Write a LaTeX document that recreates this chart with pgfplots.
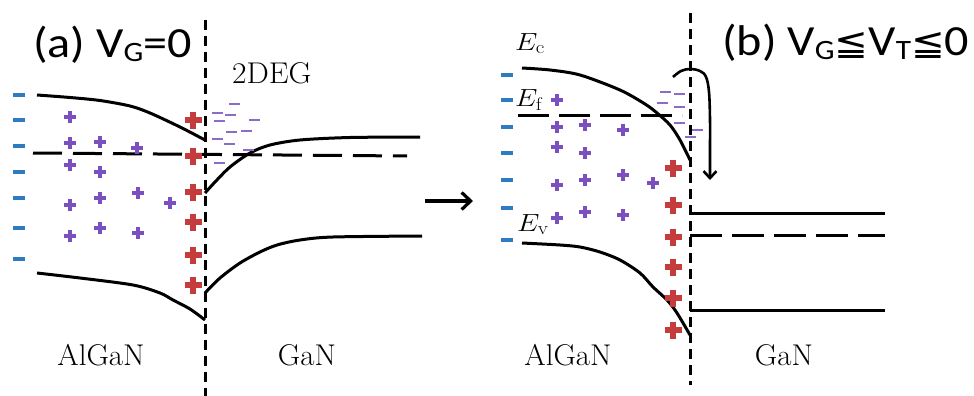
\documentclass[border=0pt]{standalone}
\usepackage{fontspec}
\usepackage{pgfplots}
\pgfplotsset{compat=1.18}
\usetikzlibrary{arrows.meta}
\newfontfamily\carlito{Carlito}
\newfontfamily\djv{DejaVu Sans}
\definecolor{bminus}{HTML}{2F7BC0}
\definecolor{rcross}{HTML}{C43C3C}
\definecolor{pplus}{HTML}{7A4FBF}
\definecolor{pminus}{HTML}{8C6CC9}
\newcommand{\sub}[1]{\raisebox{-4bp}{\fontsize{28bp}{28bp}\selectfont #1}}
\begin{document}
\begin{tikzpicture}
\begin{axis}[name=ax, width=974bp, height=396bp, scale only axis, hide axis,
  xmin=0, xmax=974, ymin=0, ymax=396, y dir=reverse, clip=false]
% ---------- panel (a) ----------
\addplot[black, line width=3bp, dash pattern=on 10bp off 6bp] coordinates {(205,20) (205,396)};
\addplot[black, line width=3bp, smooth] coordinates {(37,95) (70,97.5) (100,100.5) (130,106) (150,113) (180,127) (205,140)};
\addplot[black, line width=3bp, smooth] coordinates {(37,273) (80,278) (133,285) (160,293) (173,300) (190,309) (205,320)};
\addplot[black, line width=3bp, dash pattern=on 29bp off 11bp] coordinates {(33,153) (407,156)};
\addplot[black, line width=3bp, smooth] coordinates {(205,193) (215,182) (230,167) (250,153) (270,145) (300,140) (350,137.5) (420,137)};
\addplot[black, line width=3bp, smooth] coordinates {(205,293) (220,278) (240,263) (260,252) (277,245) (300,240) (333,237) (422,236)};
\addplot[only marks, mark=-, mark size=6bp, color=bminus, mark options={line width=3.8bp}] coordinates {(19,95) (19,120) (19,146) (19,172) (19,198) (19,228) (19,259)};
\addplot[only marks, mark=+, mark size=6bp, color=pplus, mark options={line width=3.4bp}] coordinates {(70,117) (70,143) (100,142) (137,148) (70,165) (100,172) (70,205) (100,198) (138,193) (170,203) (70,236) (100,228) (138,233)};
\addplot[only marks, mark=+, mark size=8.5bp, color=rcross, mark options={line width=6.5bp}] coordinates {(193,120) (193,156) (193,192) (193,222) (193,255) (193,285)};
\addplot[only marks, mark=-, mark size=5.5bp, color=pminus, mark options={line width=2.4bp}] coordinates {(234,104) (217,113) (230,115) (219,121) (254,120) (231,132) (246,131) (217,139) (229,144) (248,150) (219,163)};
\addplot[black, line width=3.2bp, -{Straight Barb[length=9bp,width=17bp]}] coordinates {(425,201) (473,201)};
% ---------- panel (b) ----------
\addplot[only marks, mark=+, mark size=8.5bp, color=rcross, mark options={line width=6.5bp}] coordinates {(673,168) (673,205) (673,237) (673,267) (673,298) (673,330)};
\addplot[black, line width=3bp, dash pattern=on 10bp off 6bp] coordinates {(690,13) (690,385)};
\addplot[black, line width=3bp, smooth] coordinates {(522,68) (550,70) (580,75) (620,90) (645,104) (657,113) (670,125) (680,140) (690,160)};
\addplot[black, line width=3bp, smooth] coordinates {(522,243) (560,245) (580,247) (600,252) (620,260) (640,273) (653,287) (667,300) (677,313) (690,335)};
\addplot[black, line width=3bp, dash pattern=on 31bp off 10bp] coordinates {(518,115) (682,115)};
\addplot[black, line width=3bp] coordinates {(690,213) (885,213)};
\addplot[black, line width=3bp, dash pattern=on 32bp off 10bp] coordinates {(690,235) (885,235)};
\addplot[black, line width=3bp] coordinates {(690,310) (885,310)};
\addplot[only marks, mark=-, mark size=6bp, color=bminus, mark options={line width=3.8bp}] coordinates {(507,75) (507,100) (507,127) (507,153) (507,180) (507,208) (507,240)};
\addplot[only marks, mark=+, mark size=6bp, color=pplus, mark options={line width=3.4bp}] coordinates {(557,100) (557,127) (585,125) (623,130) (557,147) (585,153) (557,185) (585,180) (623,175) (653,183) (557,218) (585,212) (623,215)};
\addplot[only marks, mark=-, mark size=5.5bp, color=pminus, mark options={line width=2.4bp}] coordinates {(665,92) (679,94) (662,103) (679,107) (679,123) (697,130) (690,137)};
\addplot[black, line width=2.6bp, smooth, tension=0.6, -{Straight Barb[length=7bp,width=13bp]}] coordinates {(673,77) (681,71) (690,69) (700,71) (706,77) (709,92) (710,120) (710,150) (710,180)};
% ---------- text ----------
\node[anchor=base west, inner sep=0pt, xscale=1.12] at (axis cs:33,57) {\carlito\fontsize{43bp}{48bp}\selectfont (a) V\sub{G}=0};
\node[anchor=base west, inner sep=0pt, xscale=1.12] at (axis cs:722,55) {\carlito\fontsize{43bp}{48bp}\selectfont (b) V\sub{G}{\djv\fontsize{36bp}{40bp}\selectfont ≦}V\sub{T}{\djv\fontsize{36bp}{40bp}\selectfont ≦}0};
\node[anchor=base west, inner sep=0pt, xscale=1.05] at (axis cs:232,83) {\fontsize{30bp}{36bp}\selectfont 2DEG};
\node[anchor=base, inner sep=0pt, xscale=1.03] at (axis cs:101,365) {\fontsize{30bp}{36bp}\selectfont AlGaN};
\node[anchor=base, inner sep=0pt, xscale=1.03] at (axis cs:307,365) {\fontsize{30bp}{36bp}\selectfont GaN};
\node[anchor=base, inner sep=0pt, xscale=1.03] at (axis cs:568,365) {\fontsize{30bp}{36bp}\selectfont AlGaN};
\node[anchor=base, inner sep=0pt, xscale=1.03] at (axis cs:784,365) {\fontsize{30bp}{36bp}\selectfont GaN};
\node[anchor=base west, inner sep=0pt, xscale=1.15] at (axis cs:515,50) {\fontsize{26bp}{30bp}\selectfont $E_{\mathrm{c}}$};
\node[anchor=base west, inner sep=0pt, xscale=1.15] at (axis cs:515,106) {\fontsize{26bp}{30bp}\selectfont $E_{\mathrm{f}}$};
\node[anchor=base west, inner sep=0pt, xscale=1.15] at (axis cs:517,231) {\fontsize{26bp}{30bp}\selectfont $E_{\mathrm{v}}$};
\end{axis}
\pgfresetboundingbox
\path (ax.south west) rectangle (ax.north east);
\end{tikzpicture}
\end{document}
